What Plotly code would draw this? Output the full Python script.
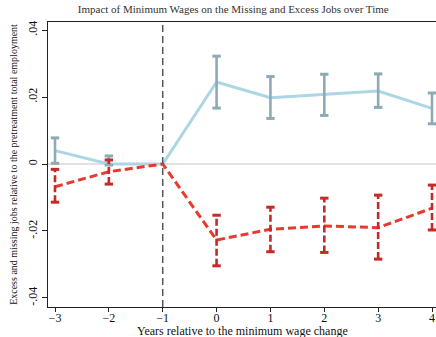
import plotly.graph_objects as go

# Event-time grid
years = [-3, -2, -1, 0, 1, 2, 3, 4]

# Excess jobs (above the wage) with 95% CI
excess = [0.0040, 0.0000, 0.0000, 0.0245, 0.0198, 0.0208, 0.0218, 0.0166]
excess_lo = [0.0002, -0.0003, None, 0.0167, 0.0136, 0.0145, 0.0169, 0.0120]
excess_hi = [0.0078, 0.0024, None, 0.0322, 0.0261, 0.0268, 0.0269, 0.0212]

# Missing jobs (below the wage) with 95% CI
missing = [-0.0068, -0.0023, 0.0000, -0.0227, -0.0195, -0.0185, -0.0190, -0.0132]
missing_lo = [-0.0114, -0.0060, None, -0.0304, -0.0262, -0.0264, -0.0284, -0.0197]
missing_hi = [-0.0016, 0.0012, None, -0.0153, -0.0129, -0.0102, -0.0093, -0.0063]

y_ticks = [-0.04, -0.02, 0, 0.02, 0.04]
y_tick_text = ["-.04", "-.02", "0", ".02", ".04"]

BLUE_LINE = "#acd6e4"
BLUE_BAR = "#8eaab6"
RED_LINE = "#e8392e"
RED_BAR = "#c42a27"
FONT = "Liberation Serif"

fig = go.Figure()


def add_ci(x, lo, hi, color, dash):
    xs, ys = [], []
    for xi, a, b in zip(x, lo, hi):
        if a is None:
            continue
        xs += [xi, xi, None]
        ys += [a, b, None]
    fig.add_trace(go.Scatter(x=xs, y=ys, mode="lines",
                             line=dict(color=color, width=2.6, dash=dash),
                             hoverinfo="skip", showlegend=False))
    cx = [xi for xi, a in zip(x, lo) if a is not None]
    fig.add_trace(go.Scatter(
        x=cx + cx,
        y=[a for a in lo if a is not None] + [b for b in hi if b is not None],
        mode="markers",
        marker=dict(symbol="line-ew", size=6, line=dict(color=color, width=3)),
        hoverinfo="skip", showlegend=False))


# zero reference line
fig.add_hline(y=0, line=dict(color="#c4c4c4", width=1.2), layer="below")
# policy change marker
fig.add_vline(x=-1, line=dict(color="#555555", width=1.5, dash="7px,4px"))

fig.add_trace(go.Scatter(x=years, y=excess, mode="lines",
                         line=dict(color=BLUE_LINE, width=3), showlegend=False))
add_ci(years, excess_lo, excess_hi, BLUE_BAR, "solid")

fig.add_trace(go.Scatter(x=years, y=missing, mode="lines",
                         line=dict(color=RED_LINE, width=3, dash="8px,4px"),
                         showlegend=False))
add_ci(years, missing_lo, missing_hi, RED_BAR, "7px,3px")

fig.add_annotation(text="Years relative to the minimum wage change",
                   xref="paper", yref="paper", x=0.5, y=-0.084,
                   xanchor="center", yanchor="middle", showarrow=False,
                   font=dict(family=FONT, size=12, color="#111111"))

fig.update_layout(
    width=436, height=337,
    margin=dict(l=48, r=0, t=22, b=30),
    paper_bgcolor="white", plot_bgcolor="white",
    font=dict(family=FONT, color="#111111"),
    title=dict(text="Impact of Minimum Wages on the Missing and Excess Jobs over Time",
               font=dict(family=FONT, size=11, color="#333333"),
               x=0.535, xanchor="center", y=0.972, yanchor="middle"),
    xaxis=dict(range=[-3.13, 4.074], tickvals=years,
               ticks="outside", ticklen=4, tickcolor="#222222",
               ticklabelstandoff=-4,
               showline=True, linecolor="#222222", linewidth=1, mirror=True,
               showgrid=False, zeroline=False,
               tickfont=dict(family=FONT, size=12)),
    yaxis=dict(range=[-0.0427, 0.0424], tickvals=y_ticks, ticktext=y_tick_text,
               tickangle=-90, ticks="outside", ticklen=5, tickcolor="#222222",
               showline=True, linecolor="#222222", linewidth=1,
               showgrid=False, zeroline=False,
               tickfont=dict(family=FONT, size=12),
               title=dict(text="Excess and missing jobs relative to the pretreatment total employment",
                          font=dict(family=FONT, size=10), standoff=6)),
)

fig.write_html("out.html")
